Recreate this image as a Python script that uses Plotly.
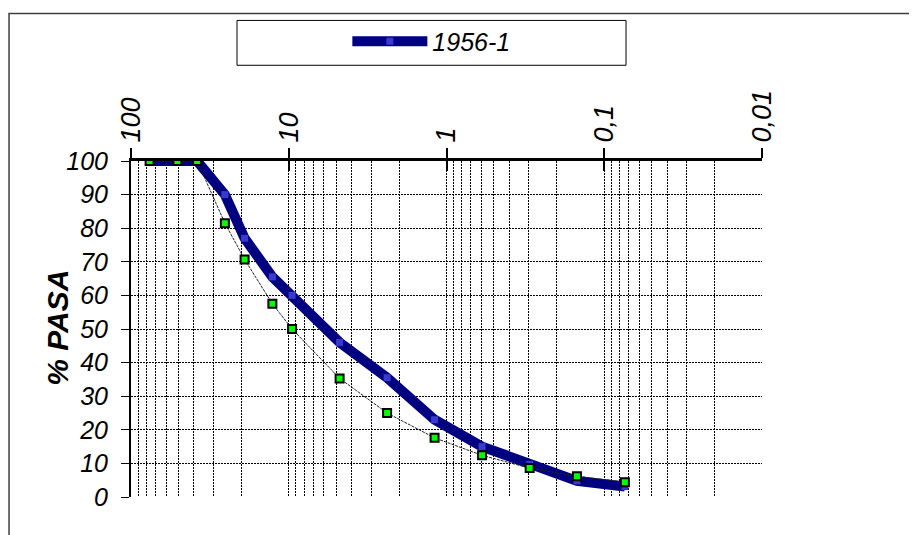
import plotly.graph_objects as go

# sieve openings (mm) and % passing
sizes = [76.2, 50.8, 38.1, 25.4, 19.05, 12.7, 9.525, 4.76, 2.38, 1.19, 0.595, 0.297, 0.149, 0.074]
pasa_1956_1 = [100, 100, 100, 90, 77, 65.5, 60, 46, 35.5, 23, 15, 9.7, 4.8, 3.1]
pasa_ref = [100, 100, 100, 81.5, 70.7, 57.5, 50, 35.3, 25, 17.6, 12.4, 8.6, 6.2, 4.4]

decades = [100, 10, 1, 0.1, 0.01]
decade_labels = ["100", "10", "1", "0,1", "0,01"]
minor_vals = [m * d for d in [10, 1, 0.1, 0.01] for m in range(2, 10)]
y_ticks = list(range(0, 101, 10))

FONT = "Arial, Liberation Sans, sans-serif"
GRID_DASH = "2px,1px"

fig = go.Figure()

fig.add_trace(go.Scatter(
    x=sizes, y=pasa_1956_1,
    mode="lines+markers",
    name="1956-1",
    line=dict(color="#000080", width=10),
    marker=dict(symbol="square", size=7, color="#3a3acc"),
))

fig.add_trace(go.Scatter(
    x=sizes, y=pasa_ref,
    mode="lines+markers",
    showlegend=False,
    line=dict(color="#222222", width=1, dash="3px,1px"),
    marker=dict(symbol="square", size=8, color="#00ff00",
                line=dict(color="black", width=2)),
))

# invisible trace so the overlay axis (crossing ticks) gets drawn
fig.add_trace(go.Scatter(
    x=[sizes[0]], y=[None], xaxis="x2", showlegend=False,
    hoverinfo="skip", mode="markers", marker=dict(opacity=0),
))

# page body has an 8px margin, so the plot margins are shifted by that
fig.update_layout(
    width=917, height=535,
    margin=dict(l=123, r=163, t=152, b=46),
    paper_bgcolor="white", plot_bgcolor="white",
    font=dict(family=FONT, color="black"),
    showlegend=True,
    legend=dict(
        x=0.476, y=1.3516, xanchor="center", yanchor="middle",
        bgcolor="rgba(0,0,0,0)", borderwidth=0,
        font=dict(size=25, style="italic", family=FONT),
        itemwidth=75,
    ),
    xaxis=dict(
        type="log", range=[2, -2], side="top", automargin=False,
        tickmode="array", tickvals=decades, ticktext=decade_labels,
        tickangle=-90,
        tickfont=dict(size=27, style="italic", family=FONT),
        ticks="outside", ticklen=10, tickwidth=2, tickcolor="black",
        showline=True, linewidth=3, linecolor="black",
        showgrid=True, gridcolor="black", gridwidth=1, griddash=GRID_DASH,
        minor=dict(tickmode="array", tickvals=minor_vals, showgrid=True,
                   gridcolor="black", gridwidth=1, griddash=GRID_DASH, ticks=""),
        zeroline=False,
    ),
    xaxis2=dict(
        type="log", range=[2, -2], side="top", overlaying="x", anchor="y",
        automargin=False,
        tickmode="array", tickvals=decades,
        ticks="inside", ticklen=10, tickwidth=2, tickcolor="black",
        showticklabels=False, showgrid=False, showline=False, zeroline=False,
    ),
    yaxis=dict(
        range=[0, 100], tickmode="array", tickvals=y_ticks, automargin=False,
        tickfont=dict(size=25, style="italic", family=FONT),
        ticks="outside", ticklen=8, tickwidth=1, tickcolor="black",
        ticklabelstandoff=8,
        showline=True, linewidth=2, linecolor="black",
        showgrid=True, gridcolor="black", gridwidth=1, griddash=GRID_DASH,
        zeroline=False,
    ),
    annotations=[
        dict(text="% PASA", textangle=-90, showarrow=False,
             xref="paper", yref="paper", x=-0.117, y=0.504,
             xanchor="center", yanchor="middle",
             font=dict(size=30, style="italic", weight="bold", family=FONT)),
    ],
    shapes=[
        # outer chart frame
        dict(type="rect", xref="paper", yref="paper",
             x0=-0.1933, x1=1.4, y0=-0.3, y1=1.439,
             line=dict(color="#404040", width=1.5), layer="below"),
        # legend box
        dict(type="rect", xref="paper", yref="paper",
             x0=0.168, x1=0.7845, y0=1.2849, y1=1.4184,
             line=dict(color="black", width=1)),
    ],
)

fig.write_html("out.html")
